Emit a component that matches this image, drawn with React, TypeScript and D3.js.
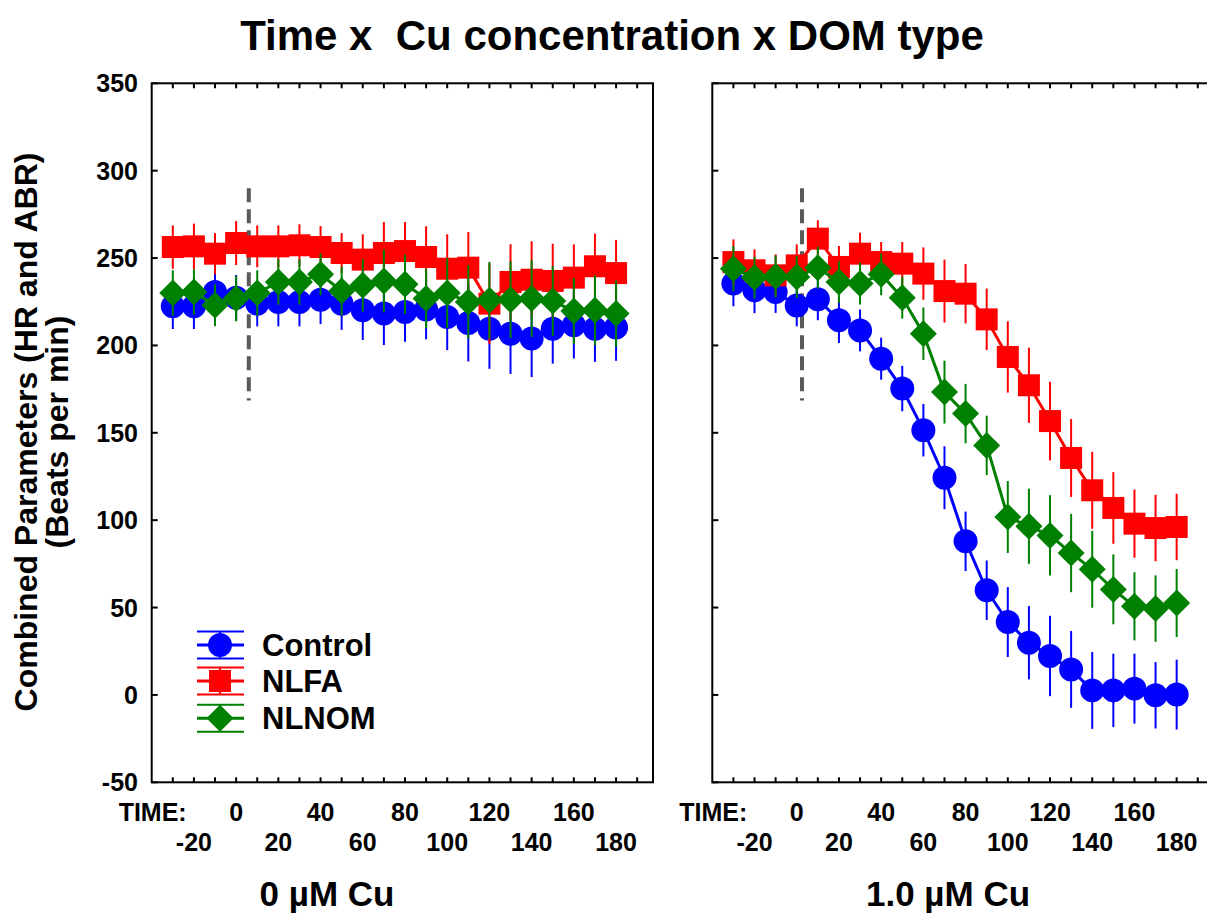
import React from 'react';
import * as d3 from 'd3';

const W = 1207;
const H = 916;

const times = [-30, -20, -10, 0, 10, 20, 30, 40, 50, 60, 70, 80, 90, 100, 110, 120, 130, 140, 150, 160, 170, 180];

// 0 µM Cu
const control0 = [222.4, 222.4, 230.6, 227.3, 223.9, 224.9, 224.9, 226.2, 223.9, 220.1, 218.2, 219.1, 220.5, 216.3, 212.8, 209.6, 206.7, 203.9, 209.6, 211.5, 209.6, 210.2];
const control0Err = [13, 13, 12, 13, 13, 14, 14, 14, 15, 17, 18, 17, 17, 19, 22, 23, 23, 22, 20, 19, 19, 19];
const nlfa0 = [256.3, 256.7, 252.5, 258.6, 256.7, 256.7, 257.3, 256.3, 252.9, 249.1, 252.9, 254, 250.6, 243.9, 244.5, 223.9, 236.3, 237.6, 236.9, 238.8, 245.3, 241.4];
const nlfa0Err = [12.4, 13, 11.8, 12.6, 12, 12, 12, 12, 11.4, 14.5, 17.7, 16.6, 17.6, 19.7, 20.4, 23, 21.6, 22, 21.3, 19, 18.7, 19];
const nlnom0 = [230, 230.6, 223, 226.8, 230, 236.3, 236.3, 240.7, 231.1, 234.4, 236.9, 235, 226.8, 230, 224.9, 225.8, 226.2, 226.8, 225.4, 219.7, 220.1, 218.2];
const nlnom0Err = [13, 13, 12, 13, 13, 13, 13, 12, 14, 15, 18, 17, 17, 20, 21, 22, 22, 22, 20, 19, 20, 19];

// 1.0 µM Cu
const control1 = [235.4, 231.5, 230.6, 222.9, 226.4, 214.4, 208.6, 192.4, 175.3, 151.5, 124.3, 87.9, 59.9, 41.7, 29.9, 22.3, 14.6, 2.6, 2.6, 3.6, -0.2, 0.2];
const control1Err = [13, 13, 12, 12, 12, 13, 12, 12, 13, 15, 18, 17, 17, 20, 21, 23, 22, 22, 21, 20, 19, 20];
const nlfa1 = [247.7, 243, 240.1, 245.8, 261.1, 244.9, 252.5, 247.7, 246.8, 241.1, 231.1, 229.6, 214.9, 193.4, 177.2, 156.7, 135.6, 117.1, 107, 98, 95.5, 96.1];
const nlfa1Err = [13, 12, 12, 12, 10.5, 12, 12, 11.5, 12.4, 15, 18, 17, 17.6, 20.4, 21.5, 22.5, 22.3, 22, 20.5, 19.5, 19, 19];
const nlnom1 = [243.9, 238.8, 239.5, 239.1, 244.5, 236.3, 235.4, 240.7, 227.3, 206.7, 173.3, 161, 142.8, 101.8, 96.5, 91.3, 81.2, 71.9, 60.4, 50.7, 49.4, 52.6];
const nlnom1Err = [13, 12, 12, 12, 12, 12, 12, 12, 12, 15, 18, 17, 17, 20.6, 21.5, 23, 22.4, 22, 20, 19.5, 19, 19.5];

const seriesNames = ['Control', 'NLFA', 'NLNOM'];
const seriesColors = ['#0000ff', '#ff0000', '#008000'];
const seriesShapes = ['circle', 'square', 'diamond'];

const panelTitles = ['0 µM Cu', '1.0 µM Cu'];
const panelData = [
  [[control0, control0Err], [nlfa0, nlfa0Err], [nlnom0, nlnom0Err]],
  [[control1, control1Err], [nlfa1, nlfa1Err], [nlnom1, nlnom1Err]],
];
const dashTimes = [6, 2.5];
const dashRange = [168.5, 290];

const xTicks = d3.range(-30, 191, 10);
const xLabelsRow1 = [0, 40, 80, 120, 160];
const xLabelsRow2 = [-20, 20, 60, 100, 140, 180];
const yTicks = [-50, 0, 50, 100, 150, 200, 250, 300, 350];

const FONT = 'Arial, "Liberation Sans", Helvetica, sans-serif';

function Marker({ shape, x, y, color, size = 1 }: { shape: string; x: number; y: number; color: string; size?: number }) {
  if (shape === 'circle') return <circle cx={x} cy={y} r={12 * size} fill={color} />;
  if (shape === 'square') {
    const s = 22 * size;
    return <rect x={x - s / 2} y={y - s / 2} width={s} height={s} fill={color} />;
  }
  const d = 13.5 * size;
  return <path d={`M${x},${y - d}L${x + d},${y}L${x},${y + d}L${x - d},${y}Z`} fill={color} />;
}

export default function App() {
  const yTop = 83.3;
  const yBottom = 782.3;
  const y = d3.scaleLinear().domain([-50, 350]).range([yBottom, yTop]);
  const panelLefts = [151.7, 712.3];
  const panelWidth = 501.3;
  const panelCenters = [327, 948];

  return (
    <svg width={W} height={H} style={{ position: 'absolute', left: 0, top: 0, display: 'block', background: '#fff' }} fontFamily={FONT} fontWeight="bold">
      <rect x={0} y={0} width={W} height={H} fill="#fff" />
      <text x={612} y={50} textAnchor="middle" fontSize={42} fill="#000" style={{ whiteSpace: 'pre' }}>{'Time x  Cu concentration x DOM type'}</text>

      <text transform={`translate(37,432) rotate(-90)`} textAnchor="middle" fontSize={32}>Combined Parameters (HR and ABR)</text>
      <text transform={`translate(68,432) rotate(-90)`} textAnchor="middle" fontSize={32}>(Beats per min)</text>

      {panelLefts.map((left, pi) => {
        const x = d3.scaleLinear().domain([-40, 197.5]).range([left, left + panelWidth]);
        const lineGen = d3.line<number>().x((_, i) => x(times[i])).y((v) => y(v));
        return (
          <g key={pi}>
            <rect x={left} y={yTop} width={panelWidth} height={yBottom - yTop} fill="none" stroke="#000" strokeWidth={2} />
            {xTicks.map((t) => (
              <g key={t}>
                <line x1={x(t)} x2={x(t)} y1={yBottom} y2={yBottom - 5} stroke="#000" strokeWidth={2} />
                <line x1={x(t)} x2={x(t)} y1={yTop} y2={yTop + 5} stroke="#000" strokeWidth={2} />
              </g>
            ))}
            {yTicks.map((v) => (
              <line key={v} x1={left} x2={left + 6} y1={y(v)} y2={y(v)} stroke="#000" strokeWidth={2} />
            ))}
            {pi === 0 &&
              yTicks.map((v) => (
                <text key={v} x={138} y={y(v)} dy="0.36em" textAnchor="end" fontSize={25}>{v}</text>
              ))}
            <text x={left + 35} y={821} textAnchor="end" fontSize={25}>TIME:</text>
            {xLabelsRow1.map((t) => (
              <text key={t} x={x(t)} y={821} textAnchor="middle" fontSize={25}>{t}</text>
            ))}
            {xLabelsRow2.map((t) => (
              <text key={t} x={x(t)} y={851} textAnchor="middle" fontSize={25}>{t}</text>
            ))}
            <text x={panelCenters[pi]} y={906} textAnchor="middle" fontSize={35}>{panelTitles[pi]}</text>

            <line x1={x(dashTimes[pi])} x2={x(dashTimes[pi])} y1={y(dashRange[1])} y2={y(dashRange[0])} stroke="#5a5a5a" strokeWidth={4} strokeDasharray="14,7" />

            {panelData[pi].map(([vals, errs], si) => (
              <g key={si}>
                <path d={lineGen(vals) || ''} fill="none" stroke={seriesColors[si]} strokeWidth={3} />
                {vals.map((v, i) => (
                  <line key={i} x1={x(times[i])} x2={x(times[i])} y1={y(v - errs[i])} y2={y(v + errs[i])} stroke={seriesColors[si]} strokeWidth={2} />
                ))}
                {vals.map((v, i) => (
                  <Marker key={i} shape={seriesShapes[si]} x={x(times[i])} y={y(v)} color={seriesColors[si]} />
                ))}
              </g>
            ))}
          </g>
        );
      })}

      {seriesNames.map((name, i) => {
        const cy = [645, 681, 718.3][i];
        const cx = 220;
        const c = seriesColors[i];
        return (
          <g key={name}>
            <line x1={197} x2={244} y1={cy - 13.5} y2={cy - 13.5} stroke={c} strokeWidth={2} />
            <line x1={197} x2={244} y1={cy + 13.5} y2={cy + 13.5} stroke={c} strokeWidth={2} />
            <line x1={197} x2={244} y1={cy} y2={cy} stroke={c} strokeWidth={3} />
            <line x1={cx} x2={cx} y1={cy - 13.5} y2={cy + 13.5} stroke={c} strokeWidth={2} />
            <Marker shape={seriesShapes[i]} x={cx} y={cy} color={c} />
            <text x={262} y={cy + 11} fontSize={31}>{name}</text>
          </g>
        );
      })}
    </svg>
  );
}
